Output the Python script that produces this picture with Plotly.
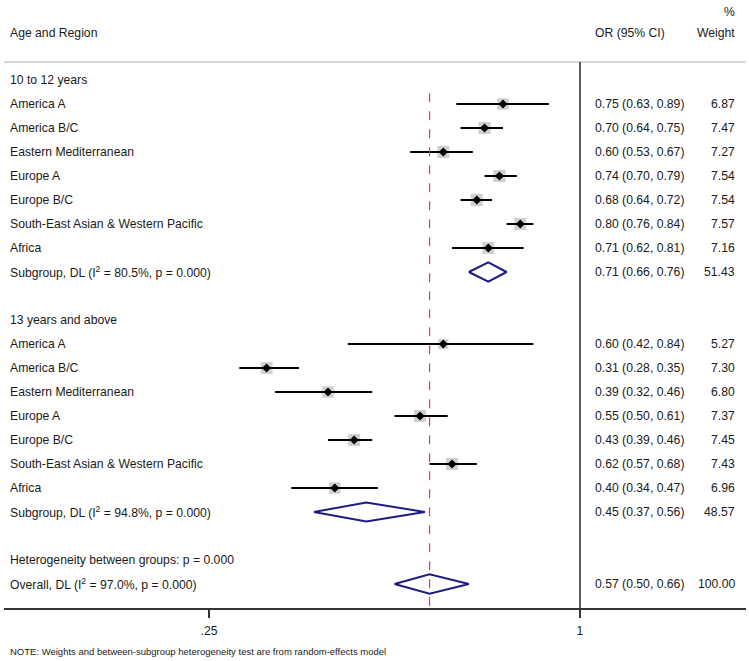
import math
import plotly.graph_objects as go

# ---------------- data ----------------
regions = ["America A", "America B/C", "Eastern Mediterranean", "Europe A",
           "Europe B/C", "South-East Asian & Western Pacific", "Africa"]

group1_title = "10 to 12 years"
g1_or = [0.75, 0.70, 0.60, 0.74, 0.68, 0.80, 0.71]
g1_lo = [0.63, 0.64, 0.53, 0.70, 0.64, 0.76, 0.62]
g1_hi = [0.89, 0.75, 0.67, 0.79, 0.72, 0.84, 0.81]
g1_w = [6.87, 7.47, 7.27, 7.54, 7.54, 7.57, 7.16]
g1_sub = [0.71, 0.66, 0.76]
g1_sub_w = 51.43
g1_i2 = "80.5"

group2_title = "13 years and above"
g2_or = [0.60, 0.31, 0.39, 0.55, 0.43, 0.62, 0.40]
g2_lo = [0.42, 0.28, 0.32, 0.50, 0.39, 0.57, 0.34]
g2_hi = [0.84, 0.35, 0.46, 0.61, 0.46, 0.68, 0.47]
g2_w = [5.27, 7.30, 6.80, 7.37, 7.45, 7.43, 6.96]
g2_sub = [0.45, 0.37, 0.56]
g2_sub_w = 48.57
g2_i2 = "94.8"

overall = [0.57, 0.50, 0.66]
overall_w = 100.00
overall_i2 = "97.0"
het_text = "Heterogeneity between groups: p = 0.000"
note_text = "NOTE: Weights and between-subgroup heterogeneity test are from random-effects model"

tick_vals = [0.25, 1]
tick_text = [".25", "1"]

# ---------------- layout helpers ----------------
W, H = 749, 661
ML, MR, MB = 4, 3, 53
PW = W - ML - MR
PH = H - MB
FONT = "Liberation Sans, Arial, sans-serif"
TXT = "#1a1a1a"
NAVY = "#1c1c84"


def px(X):
    return (X - ML) / PW


fig = go.Figure()
ann = []


def label(x, y, text, xanchor="left", size=12.2, yref="y", xref="paper"):
    ann.append(dict(x=x, y=y, xref=xref, yref=yref, text=text, showarrow=False,
                    xanchor=xanchor, yanchor="middle",
                    font=dict(family=FONT, size=size, color=TXT)))


def fmt_ci(v):
    return f"{v[0]:.2f} ({v[1]:.2f}, {v[2]:.2f})"


groups = [
    (group1_title, g1_or, g1_lo, g1_hi, g1_w, g1_sub, g1_sub_w, g1_i2, 0),
    (group2_title, g2_or, g2_lo, g2_hi, g2_w, g2_sub, g2_sub_w, g2_i2, 10),
]

diamonds = []
for title, ors, los, his, ws, sub, subw, i2, start in groups:
    label(px(8), start, title)
    rows = [start + 1 + i for i in range(len(ors))]
    for r, name, o, lo, hi, w in zip(rows, regions, ors, los, his, ws):
        label(px(8), r, name)
        label(px(593), r, fmt_ci((o, lo, hi)))
        label(px(737), r, f"{w:.2f}", xanchor="right")
    # boxes
    fig.add_trace(go.Scatter(x=ors, y=rows, mode="markers",
                             marker=dict(symbol="square", color="#bcbcbc",
                                         size=[4.4 * math.sqrt(w) for w in ws],
                                         line=dict(width=0))))
    # CI lines
    xs, ys = [], []
    for r, lo, hi in zip(rows, los, his):
        xs += [lo, hi, None]
        ys += [r, r, None]
    fig.add_trace(go.Scatter(x=xs, y=ys, mode="lines",
                             line=dict(color="black", width=2)))
    fig.add_trace(go.Scatter(x=ors, y=rows, mode="markers",
                             marker=dict(symbol="diamond", color="black", size=7)))
    srow = start + 1 + len(ors)
    label(px(8), srow, f"Subgroup, DL (I<sup>2</sup> = {i2}%, p = 0.000)")
    label(px(593), srow, fmt_ci(sub))
    label(px(737), srow, f"{subw:.2f}", xanchor="right")
    diamonds.append((sub, srow))

orow = 21
label(px(8), orow - 1, het_text)
label(px(8), orow, f"Overall, DL (I<sup>2</sup> = {overall_i2}%, p = 0.000)")
label(px(593), orow, fmt_ci(overall))
label(px(737), orow, f"{overall_w:.2f}", xanchor="right")
diamonds.append((overall, orow))

for (est, lo, hi), r in diamonds:
    fig.add_trace(go.Scatter(x=[lo, est, hi, est, lo], y=[r, r - 0.4, r, r + 0.4, r],
                             mode="lines", line=dict(color=NAVY, width=2)))

# headers
label(px(8), -1.96, "Age and Region")
label(px(593), -1.96, "OR (95% CI)")
label(px(737), -1.96, "Weight", xanchor="right")
label(px(737), -2.83, "%", xanchor="right")
label(px(8), -(651 - PH) / PH, note_text, size=9.5, yref="paper")

shapes = [
    dict(type="line", xref="paper", yref="y", x0=0, x1=1, y0=-0.75, y1=-0.75,
         line=dict(color="#d6d6d6", width=2)),
    dict(type="line", xref="x", yref="y", x0=1, x1=1, y0=-0.75, y1=22,
         line=dict(color="#333333", width=1.6)),
    dict(type="line", xref="x", yref="y", x0=overall[0], x1=overall[0], y0=0.55, y1=22,
         line=dict(color="#c24a52", width=1.2, dash="dash")),
]

lx0 = math.log10(0.25) - (209 - ML) / 616.2
lx1 = (W - MR - 580) / 616.2

fig.update_layout(
    width=W, height=H,
    margin=dict(l=ML, r=MR, t=0, b=MB),
    paper_bgcolor="white", plot_bgcolor="white",
    showlegend=False, hovermode=False,
    annotations=ann, shapes=shapes,
    xaxis=dict(type="log", range=[lx0, lx1], tickvals=tick_vals, ticktext=tick_text,
               ticks="outside", ticklen=8, tickwidth=1.5, tickcolor="#333333",
               showline=True, linecolor="#333333", linewidth=1.6,
               showgrid=False, zeroline=False, ticklabelstandoff=3,
               tickfont=dict(family=FONT, size=12.2, color=TXT)),
    yaxis=dict(range=[22, -3.333], visible=False, showgrid=False, zeroline=False),
)

fig.write_html("out.html", config={"displayModeBar": False},
               post_script="document.body.style.margin='0';document.body.style.overflow='hidden';")
